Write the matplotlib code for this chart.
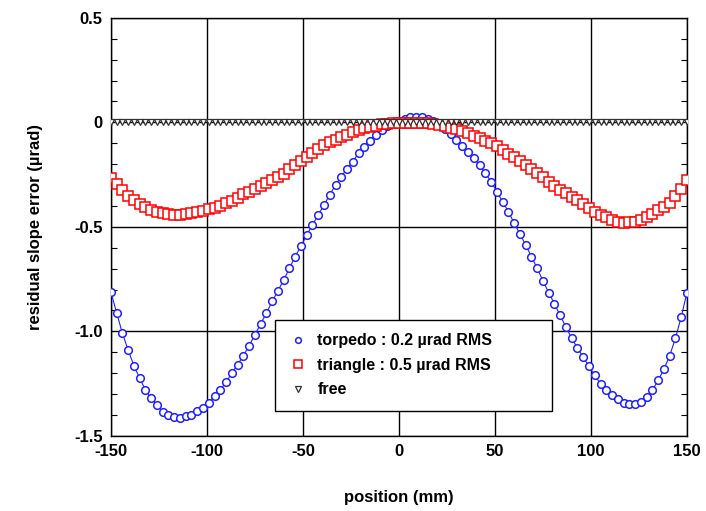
import numpy as np
import matplotlib
matplotlib.use("Agg")
import matplotlib.pyplot as plt
from matplotlib.ticker import MultipleLocator, FuncFormatter

# positions (mm), 3 mm step
position = np.arange(-150, 151, 3)

torpedo = [
    -0.810, -0.910, -1.009, -1.089, -1.164, -1.224, -1.280, -1.321, -1.352, -1.384,
    -1.401, -1.409, -1.415, -1.406, -1.398, -1.380, -1.365, -1.341, -1.309, -1.280,
    -1.243, -1.200, -1.159, -1.117, -1.068, -1.017, -0.964, -0.913, -0.857, -0.806,
    -0.754, -0.698, -0.642, -0.591, -0.540, -0.490, -0.443, -0.395, -0.347, -0.299,
    -0.259, -0.222, -0.188, -0.147, -0.116, -0.087, -0.060, -0.036, -0.017, -0.004,
    0.008, 0.018, 0.025, 0.028, 0.025, 0.017, 0.008, -0.008, -0.030, -0.055,
    -0.085, -0.113, -0.142, -0.171, -0.205, -0.243, -0.283, -0.331, -0.379, -0.427,
    -0.482, -0.533, -0.586, -0.642, -0.698, -0.758, -0.814, -0.868, -0.924, -0.980,
    -1.033, -1.080, -1.124, -1.168, -1.211, -1.251, -1.280, -1.304, -1.325, -1.341,
    -1.347, -1.347, -1.336, -1.312, -1.280, -1.235, -1.181, -1.117, -1.033, -0.932,
    -0.814,
]

triangle = [
    -0.267, -0.294, -0.323, -0.352, -0.371, -0.390, -0.406, -0.419, -0.427, -0.435,
    -0.439, -0.441, -0.441, -0.439, -0.435, -0.428, -0.422, -0.415, -0.409, -0.400,
    -0.388, -0.376, -0.361, -0.345, -0.331, -0.317, -0.304, -0.289, -0.275, -0.259,
    -0.246, -0.225, -0.205, -0.186, -0.166, -0.145, -0.127, -0.110, -0.096, -0.082,
    -0.069, -0.058, -0.047, -0.037, -0.028, -0.021, -0.015, -0.010, -0.007, -0.004,
    -0.002, -0.001, -0.001, -0.002, -0.003, -0.005, -0.008, -0.012, -0.018, -0.025,
    -0.033, -0.042, -0.052, -0.063, -0.075, -0.087, -0.100, -0.114, -0.133, -0.150,
    -0.168, -0.187, -0.205, -0.224, -0.243, -0.263, -0.283, -0.304, -0.323, -0.339,
    -0.355, -0.371, -0.390, -0.410, -0.427, -0.443, -0.455, -0.467, -0.476, -0.480,
    -0.479, -0.476, -0.468, -0.455, -0.437, -0.420, -0.403, -0.384, -0.352, -0.318,
    -0.278,
]

free = [0.0] * len(position)

labels = ["torpedo : 0.2 µrad RMS", "triangle : 0.5 µrad RMS", "free"]

plt.rcParams['font.family'] = ['Liberation Sans', 'DejaVu Sans']
plt.rcParams['font.weight'] = 'bold'
plt.rcParams['axes.unicode_minus'] = False

fig = plt.figure(figsize=(7.06, 5.11), dpi=100)
ax = fig.add_subplot(111)
fig.subplots_adjust(left=0.157, right=0.973, top=0.965, bottom=0.147)

ax.plot(position, torpedo, c='#2020ff', lw=0.8, zorder=3)
ax.plot(position, torpedo, ls='none', marker='o', ms=5.5, mfc='white', mec='#2020ff', mew=1.1,
        zorder=4, label=labels[0])
ax.plot(position, triangle, c='red', lw=0.8, zorder=3)
ax.plot(position, triangle, ls='none', marker='s', ms=7, mfc='white', mec='red', mew=1.1,
        zorder=4, label=labels[1])
ax.plot(position, free, ls='none', marker='v', ms=5, mfc='white', mec='#303030', mew=0.9,
        zorder=5, label=labels[2])

ax.set_xlim(-150, 150)
ax.set_ylim(-1.5, 0.5)
ax.xaxis.set_major_locator(MultipleLocator(50))
ax.yaxis.set_major_locator(MultipleLocator(0.5))
ax.yaxis.set_minor_locator(MultipleLocator(0.1))

def yfmt(v, pos):
    if abs(v) < 1e-9:
        return "0"
    return "%.1f" % v

ax.yaxis.set_major_formatter(FuncFormatter(yfmt))
ax.grid(True, which='major', color='black', lw=1)
ax.tick_params(which='both', direction='in', right=True, top=False, labelsize=12)
ax.tick_params(which='major', length=0, pad=6)
ax.tick_params(which='minor', length=4, width=0.8)
for s in ax.spines.values():
    s.set_linewidth(1)
for t in ax.get_xticklabels() + ax.get_yticklabels():
    t.set_fontweight('bold')

ax.set_xlabel("position (mm)", fontsize=12, fontweight='bold', labelpad=22)
ax.set_ylabel("residual slope error (µrad)", fontsize=12, fontweight='bold', labelpad=22)

leg = ax.legend(loc='upper left', bbox_to_anchor=(0.285, 0.278, 0.481, 0.0), mode='expand',
                frameon=True, fancybox=False, edgecolor='black', framealpha=1,
                prop={'size': 11.5, 'weight': 'bold'}, handlelength=1.2, handletextpad=0.6,
                borderpad=0.85, labelspacing=0.6, borderaxespad=0, markerscale=0.75)
leg.get_frame().set_linewidth(1)
leg.set_zorder(10)

plt.savefig("out.png", dpi=100)
